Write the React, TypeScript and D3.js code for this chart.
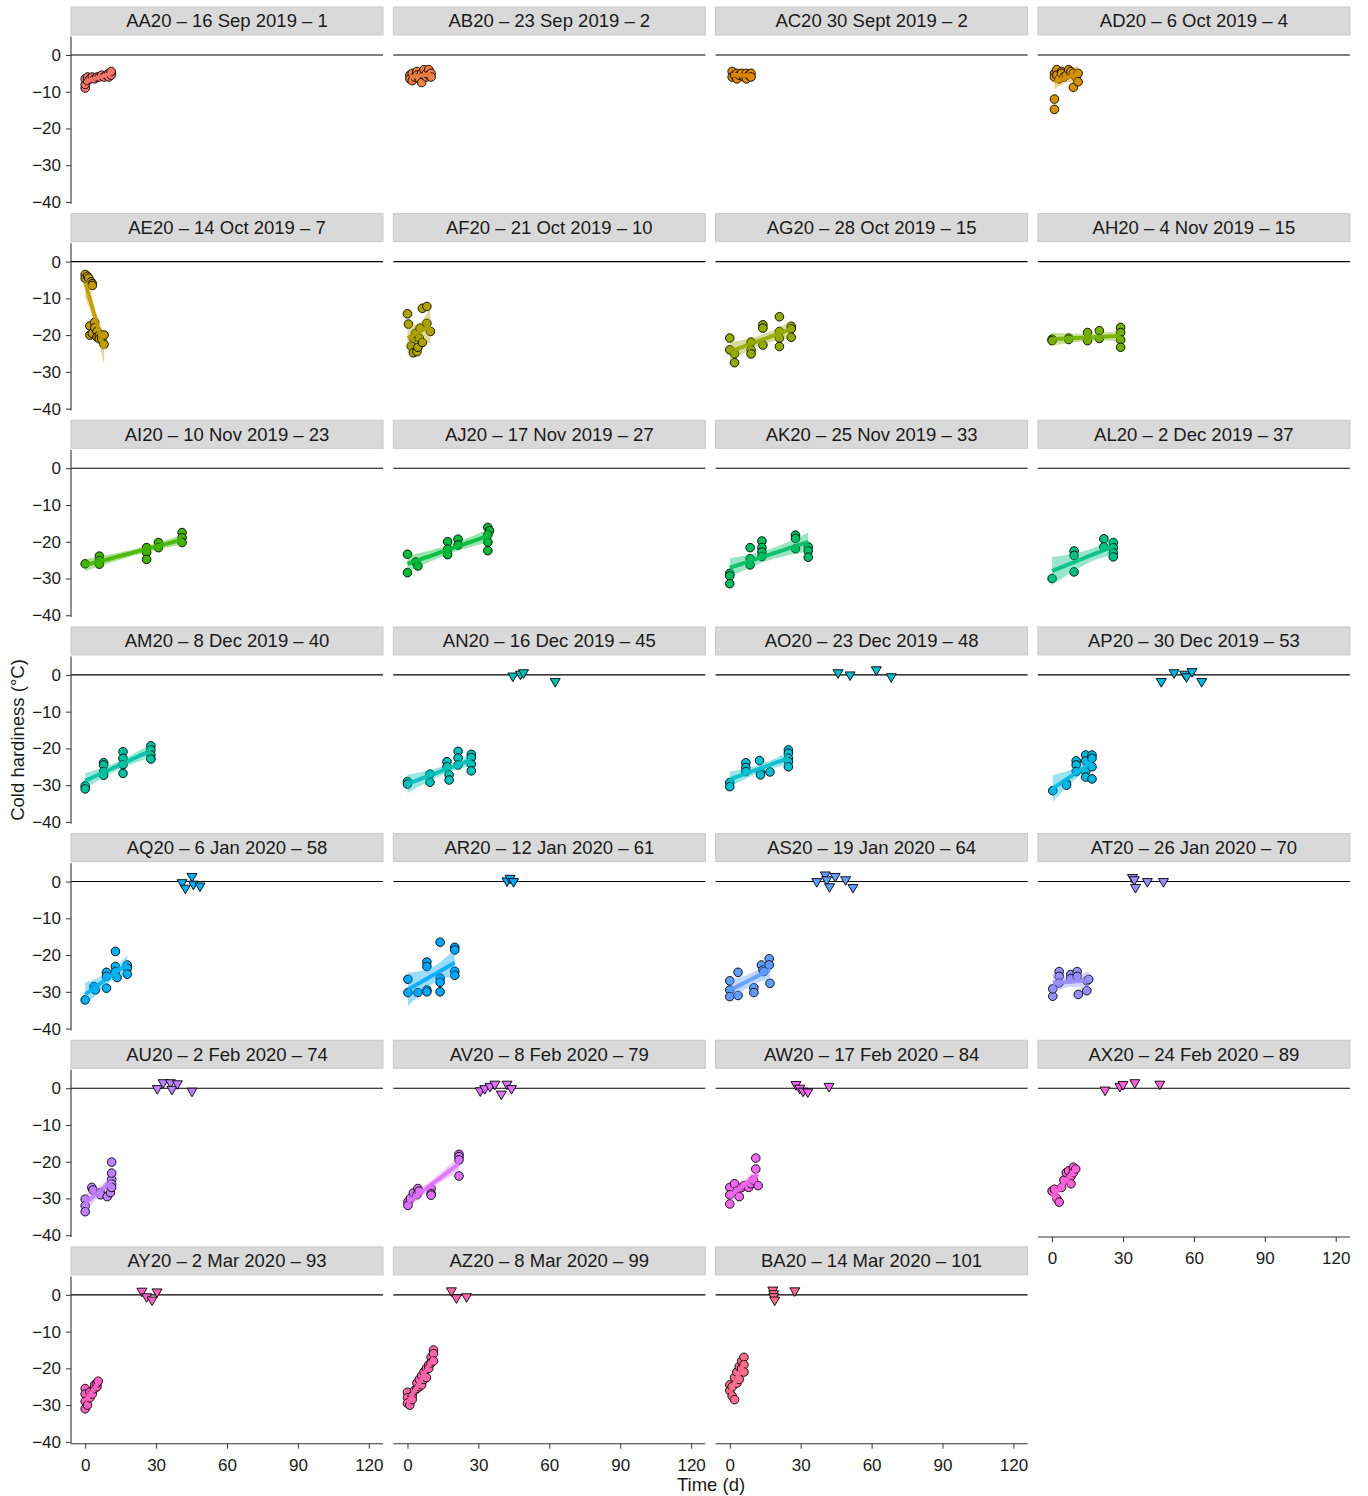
import React, { useEffect, useRef } from 'react';
import * as d3 from 'd3';

// facet titles, in order (4 per row)
const titles = [
  'AA20 – 16 Sep 2019 – 1', 'AB20 – 23 Sep 2019 – 2', 'AC20 30 Sept 2019 – 2', 'AD20 – 6 Oct 2019 – 4',
  'AE20 – 14 Oct 2019 – 7', 'AF20 – 21 Oct 2019 – 10', 'AG20 – 28 Oct 2019 – 15', 'AH20 – 4 Nov 2019 – 15',
  'AI20 – 10 Nov 2019 – 23', 'AJ20 – 17 Nov 2019 – 27', 'AK20 – 25 Nov 2019 – 33', 'AL20 – 2 Dec 2019 – 37',
  'AM20 – 8 Dec 2019 – 40', 'AN20 – 16 Dec 2019 – 45', 'AO20 – 23 Dec 2019 – 48', 'AP20 – 30 Dec 2019 – 53',
  'AQ20 – 6 Jan 2020 – 58', 'AR20 – 12 Jan 2020 – 61', 'AS20 – 19 Jan 2020 – 64', 'AT20 – 26 Jan 2020 – 70',
  'AU20 – 2 Feb 2020 – 74', 'AV20 – 8 Feb 2020 – 79', 'AW20 – 17 Feb 2020 – 84', 'AX20 – 24 Feb 2020 – 89',
  'AY20 – 2 Mar 2020 – 93', 'AZ20 – 8 Mar 2020 – 99', 'BA20 – 14 Mar 2020 – 101',
];

// [day, cold hardiness °C] — measured (circles)
const aa20 = [[0,-9],[0,-8],[0,-6.5],[1,-7],[1,-6],[2,-6.5],[3,-6],[4,-6.5],[5,-6],[6,-6],[7,-5.5],[8,-6],[9,-5.5],[10,-5],[10,-6],[11,-5],[11,-5.5],[11,-4.5]];
const ab20 = [[1,-5.5],[1,-6.5],[2,-7],[2,-5],[3,-6],[4,-4.5],[4,-5.5],[5,-6],[5,-6.5],[6,-7.5],[6,-5],[7,-5.5],[7,-4],[8,-6],[8,-5],[9,-4],[9,-5.5],[10,-5],[10,-6]];
const ac20 = [[1,-4.5],[1,-6],[2,-5.5],[3,-5],[3,-6.5],[4,-5.5],[5,-5],[6,-6],[7,-5],[7,-6.5],[8,-5.5],[9,-5],[9,-6]];
const ad20 = [[1,-5],[1,-6],[1,-12],[1,-14.8],[2,-4],[2,-5.5],[3,-6.5],[4,-4.5],[4,-5],[5,-6],[6,-5.5],[7,-4],[8,-5],[8,-4.5],[9,-5],[9,-8.8],[10,-6],[11,-5],[11,-7.3]];
const ae20 = [[0,-3.5],[0,-4.5],[1,-4],[1.5,-4.5],[2.5,-5.5],[3,-6],[3,-6.5],[2,-17.5],[2,-20],[3,-19.5],[4,-16.5],[4,-18],[5,-19],[5,-20.5],[6,-20],[6,-21],[7,-21],[7,-20],[8,-22.5],[8,-20]];
const af20 = [[0,-14.2],[0.4,-17],[1.6,-23],[2.5,-24.8],[2.5,-20.8],[3.4,-19.5],[4,-24.5],[4.4,-23.3],[5,-20.8],[5.3,-18.1],[6.3,-22],[6.3,-12.7],[8.2,-12.2],[8.2,-16.8],[9.7,-19]];
const ag20 = [[0,-20.8],[0,-24],[2,-25.1],[2,-27.5],[9,-21.9],[9,-24],[9,-25.1],[14,-17.2],[14,-18.1],[14,-22.7],[21,-15],[21,-19],[21,-20.8],[21,-23.1],[26,-17.6],[26,-18.3],[26,-20.6]];
const ah20 = [[0,-21.1],[0,-21.5],[7,-20.8],[7,-21.2],[15,-19.3],[15,-21.5],[20,-18.8],[20,-20.9],[29,-17.9],[29,-19.3],[29,-21.3],[29,-23.3]];
const ai20 = [[0,-26],[6,-23.9],[6,-25.2],[6,-26.1],[26,-21.6],[26,-22.9],[26,-24.8],[31,-20.2],[31,-21.6],[41,-17.5],[41,-18.9],[41,-20.2]];
const aj20 = [[0,-23.4],[0,-28.4],[3.5,-25.5],[4.4,-26.6],[17,-20],[17,-22],[17,-23.5],[21.4,-19.3],[21.4,-20.9],[34,-16.1],[34.7,-17],[34,-18.1],[34,-20.1],[34,-22.4]];
const ak20 = [[0,-28.6],[0,-29.3],[0,-31.4],[8.6,-21.6],[8.6,-24.6],[8.6,-26.3],[13.6,-19.8],[13.6,-21.6],[13.6,-22.8],[13.6,-24],[27.8,-18.2],[27.8,-19.1],[27.8,-21.9],[33.2,-21.4],[33.2,-22.5],[33.2,-24.2]];
const al20 = [[0,-30],[9.3,-22.5],[9.3,-23.7],[9.3,-28.2],[21.9,-19.2],[21.9,-21.4],[25.9,-20.2],[25.9,-21.6],[25.9,-23],[25.9,-24.1]];
const am20 = [[0,-30.2],[0,-31],[7.8,-23.9],[7.8,-24.5],[7.8,-26.3],[7.8,-27.3],[16,-20.9],[16,-22.7],[16,-24.4],[16,-26.8],[27.8,-19.3],[27.8,-20.4],[27.8,-21.8],[27.8,-22.9]];
const an20 = [[0,-29],[0,-29.7],[9.5,-27],[9.5,-29.2],[16.7,-23.6],[16.7,-25],[17.6,-27.2],[17.6,-28.6],[21.4,-20.8],[21.4,-22.6],[21.4,-24.5],[27,-21.6],[27,-22.5],[27,-24.3],[27,-26.1]];
const ao20 = [[0,-29.3],[0,-30.4],[6.8,-23.9],[6.8,-25.2],[6.8,-26.3],[12.6,-23.3],[13,-26.4],[13,-27.2],[17,-26.4],[24.8,-20.4],[24.8,-21.3],[24.8,-22.7],[24.8,-23.6],[24.8,-25]];
const ap20 = [[0.3,-31.5],[6.1,-29.5],[6.1,-30],[10.2,-23.4],[10.2,-24.5],[10.2,-26.3],[14.2,-21.8],[14.2,-23.4],[14.2,-26.3],[14.2,-27.8],[16.9,-21.8],[16.9,-22.7],[16.9,-25],[16.9,-28.3]];
const aq20 = [[0,-32.2],[3.7,-28.6],[4.3,-29.5],[9,-24.7],[9,-25.8],[9,-29],[12.8,-19],[12.8,-23.1],[12.8,-24.5],[13.5,-26.1],[17.8,-22.7],[17.8,-23.6],[17.8,-25.2]];
const ar20 = [[0.2,-26.6],[0.2,-30.2],[4.4,-30.2],[8.2,-21.9],[8.2,-23.1],[8.2,-29.5],[8.2,-30],[13.8,-16.5],[13.8,-26.3],[13.8,-27.4],[13.8,-30],[20,-17.9],[20,-18.6],[20,-24.4],[20,-25.5]];
const as20 = [[0,-27],[0,-29.5],[0,-31.3],[3.5,-24.7],[3.5,-31],[10.2,-28.9],[10.2,-30.2],[13.4,-22.7],[14,-24.1],[14.4,-24.5],[16.7,-21],[16.7,-22.7],[17,-27.7]];
const at20 = [[0.3,-31.2],[0.3,-29.2],[3,-24.5],[3,-25.8],[3,-27.6],[7.9,-25.3],[7.9,-26.4],[10.6,-24.5],[10.6,-25.8],[11.1,-30.7],[14.7,-27],[14.7,-29.7],[15.5,-26.6]];
const au20 = [[0,-30.2],[0,-32],[0,-33.6],[2.8,-27],[3.3,-27.7],[6.5,-28.4],[6.5,-29],[9.3,-29.5],[10.3,-26.6],[10.7,-28.4],[11.2,-24.8],[11.2,-23.1],[11.2,-20.1],[11.2,-26.1],[11.2,-27]];
const av20 = [[0.2,-30.9],[0.2,-31.9],[1.2,-30],[2.5,-28.5],[4,-29],[4.4,-27.3],[4.9,-28],[10,-27.3],[10,-28.7],[10,-29.1],[21.8,-18],[21.8,-18.6],[21.8,-19.5],[21.8,-23.9]];
const aw20 = [[0,-27],[0,-29],[0,-31.5],[2,-26],[3,-28],[4,-29.5],[5,-27],[6,-26.5],[8,-27],[9,-26],[10,-25],[11,-19],[11,-22],[12,-26.5]];
const ax20 = [[0,-28],[1,-27.5],[2,-30],[3,-31],[4,-27],[5,-25],[6,-23],[7,-22.5],[8,-24],[8,-26],[9,-21.5],[9,-23],[10,-22]];
const ay20 = [[0,-25.5],[0,-27],[0,-29],[0,-31],[1,-30],[2,-28],[2,-26.5],[3,-27],[4,-25.5],[4,-24.5],[5,-25],[5,-24],[5.5,-23.5]];
const az20 = [[0,-26.5],[0,-28],[0,-29.5],[1,-30],[2,-27.5],[2,-28.5],[3,-26],[4,-25.5],[4,-24],[5,-23],[5,-25],[6,-22],[6,-24.5],[7,-21],[7,-23],[8,-20],[8,-22.5],[9,-19],[9,-20],[10,-17],[10,-18.5],[11,-15],[11,-16],[11,-18]];
const ba20 = [[0,-24.5],[0,-26],[1,-25],[1,-27.5],[2,-28.5],[2,-22.5],[3,-24],[3,-21],[4,-23],[4,-19.5],[5,-18],[5,-20],[6,-17],[6,-19],[6,-21]];

// [day, °C] — triangles near 0
const an20Tri = [[44.6,-0.3],[47.8,0.2],[49.1,0.6],[62.5,-1.8]];
const ao20Tri = [[45.8,0.6],[50.9,0],[62,1.4],[68.3,-0.5]];
const ap20Tri = [[46.2,-1.8],[51.6,0.6],[56.1,0.2],[56.9,-0.5],[59.2,0.9],[63.3,-1.8]];
const aq20Tri = [[41,-0.3],[42.4,-1.8],[45.2,1.4],[45.8,-0.7],[48.6,-1.2]];
const ar20Tri = [[42.1,0.2],[43.4,0.9],[44.9,0]];
const as20Tri = [[36.8,0],[40.4,1.8],[41,0.5],[42.2,-1.4],[44.6,1.4],[49,0.5],[52.1,-1.6]];
const at20Tri = [[34,1.1],[34.8,0.5],[35.3,-1.6],[40.3,0],[47.1,0]];
const au20Tri = [[30.5,-0.1],[33,1.5],[36.1,1.5],[36.7,-0.3],[39,1.2],[45.2,-0.8]];
const av20Tri = [[30.8,-0.7],[32.7,-0.1],[34.9,0.5],[37,1.1],[39.7,-1.6],[42.1,1.1],[44,-0.1]];
const aw20Tri = [[28,1],[29.6,0],[31,-0.8],[33,-1],[42,0.5]];
const ax20Tri = [[22.4,-0.5],[28.7,0.5],[30,1],[35,1.5],[45.6,1.1]];
const ay20Tri = [[24,1],[26,-0.5],[28.3,-1.4],[30.4,0.8]];
const az20Tri = [[18.6,1.1],[20.7,-0.8],[25,-0.5]];
const ba20Tri = [[18.2,1.3],[18.6,0.3],[18.6,-0.5],[19,-1.4],[27.5,1.1]];

const circles = [aa20, ab20, ac20, ad20, ae20, af20, ag20, ah20, ai20, aj20, ak20, al20, am20, an20,
  ao20, ap20, aq20, ar20, as20, at20, au20, av20, aw20, ax20, ay20, az20, ba20];
const triangles = [[], [], [], [], [], [], [], [], [], [], [], [], [], an20Tri,
  ao20Tri, ap20Tri, aq20Tri, ar20Tri, as20Tri, at20Tri, au20Tri, av20Tri, aw20Tri, ax20Tri, ay20Tri, az20Tri, ba20Tri];

const xTicks = [0, 30, 60, 90, 120];
const yTicks = [0, -10, -20, -30, -40];

const FONT = '"Liberation Sans", Arial, Helvetica, sans-serif';

// ggplot-style hue palette (polar LUV -> sRGB)
function hueColor(h: number) {
  const L = 65, C = 100;
  const hr = (h * Math.PI) / 180;
  const U = C * Math.cos(hr), V = C * Math.sin(hr);
  const Xn = 95.047, Yn = 100, Zn = 108.883;
  const un = (4 * Xn) / (Xn + 15 * Yn + 3 * Zn);
  const vn = (9 * Yn) / (Xn + 15 * Yn + 3 * Zn);
  const Y = Yn * Math.pow((L + 16) / 116, 3);
  const u = U / (13 * L) + un, v = V / (13 * L) + vn;
  const X = (9 * Y * u) / (4 * v);
  const Z = -X / 3 - 5 * Y + (3 * Y) / v;
  const lin = [
    3.240479 * X - 1.53715 * Y - 0.498535 * Z,
    -0.969256 * X + 1.875992 * Y + 0.041556 * Z,
    0.055648 * X - 0.204043 * Y + 1.057311 * Z,
  ].map(c => c / 100);
  const g = lin.map(c => {
    const s = c <= 0.0031308 ? 12.92 * c : 1.055 * Math.pow(c, 1 / 2.4) - 0.055;
    return Math.round(255 * Math.max(0, Math.min(1, s)));
  });
  return d3.rgb(g[0], g[1], g[2]).formatHex();
}

// linear fit with 95% confidence band
function fitLm(pts: number[][]) {
  const n = pts.length;
  const mx = d3.mean(pts, d => d[0]) as number;
  const my = d3.mean(pts, d => d[1]) as number;
  let sxx = 0, sxy = 0;
  pts.forEach(([x, y]) => { sxx += (x - mx) ** 2; sxy += (x - mx) * (y - my); });
  const b = sxy / sxx, a = my - b * mx;
  let sse = 0;
  pts.forEach(([x, y]) => { sse += (y - a - b * x) ** 2; });
  const s = Math.sqrt(sse / (n - 2));
  const df = n - 2, z = 1.96;
  const t = z + (z ** 3 + z) / (4 * df) + (5 * z ** 5 + 16 * z ** 3 + 3 * z) / (96 * df * df);
  const [x0, x1] = d3.extent(pts, d => d[0]) as [number, number];
  return d3.range(0, 41).map(i => {
    const x = x0 + ((x1 - x0) * i) / 40;
    const yh = a + b * x;
    const se = s * Math.sqrt(1 / n + (x - mx) ** 2 / sxx);
    return { x, y: yh, lo: yh - t * se, hi: yh + t * se };
  });
}

const W = 1368, H = 1496;
const panelW = 312, panelH = 167.2;
const colLeft = (c: number) => 71 + c * 322.3;
const rowTop = (r: number) => 36.6 + r * 206.65;

const App: React.FC = () => {
  const svgRef = useRef<SVGSVGElement>(null);

  useEffect(() => {
    if (!svgRef.current) return;
    const svg = d3.select(svgRef.current);
    svg.selectAll('*').remove();

    const x = d3.scaleLinear().domain([-6, 126]).range([0, panelW]);
    const y = d3.scaleLinear().domain([-40.5, 5]).range([panelH, 0]);
    const n = titles.length;

    const line = d3.line<{ x: number; y: number }>().x(d => x(d.x)).y(d => y(d.y));
    const band = d3.area<{ x: number; lo: number; hi: number }>()
      .x(d => x(d.x)).y0(d => y(d.lo)).y1(d => y(d.hi));
    const tri = 'M-5,-3 L5,-3 L0,5.6 Z';

    titles.forEach((title, i) => {
      const c = i % 4, r = Math.floor(i / 4);
      const color = hueColor(15 + (i * 360) / n);
      const g = svg.append('g').attr('transform', `translate(${colLeft(c)},${rowTop(r)})`);

      // strip
      g.append('rect')
        .attr('x', 0).attr('y', -29.6).attr('width', panelW).attr('height', 28)
        .attr('fill', '#d9d9d9').attr('stroke', '#c8c8c8').attr('stroke-width', 1);
      g.append('text')
        .attr('x', panelW / 2).attr('y', -15.6).attr('dy', '0.35em')
        .attr('text-anchor', 'middle')
        .style('font-family', FONT).style('font-size', '18.5px').style('fill', '#1a1a1a')
        .text(title);

      // zero reference line
      g.append('line')
        .attr('x1', 0).attr('x2', panelW).attr('y1', y(0)).attr('y2', y(0))
        .attr('stroke', '#000').attr('stroke-width', 1.1);

      // measured points
      g.selectAll('.pt').data(circles[i]).enter().append('circle')
        .attr('cx', d => x(d[0])).attr('cy', d => y(d[1])).attr('r', 4.3)
        .attr('fill', color).attr('stroke', '#000').attr('stroke-width', 0.9);

      // triangles near 0
      g.selectAll('.tri').data(triangles[i]).enter().append('path')
        .attr('d', tri)
        .attr('transform', d => `translate(${x(d[0])},${y(d[1])})`)
        .attr('fill', color).attr('stroke', '#000').attr('stroke-width', 0.9);

      // regression
      const fit = fitLm(circles[i]);
      g.append('path').attr('d', band(fit) as string).attr('fill', color).attr('fill-opacity', 0.4);
      g.append('path').attr('d', line(fit) as string)
        .attr('fill', 'none').attr('stroke', color).attr('stroke-width', 4).attr('stroke-opacity', 0.9);

      // y axis on left column
      if (c === 0) {
        const ax = g.append('g').call(d3.axisLeft(y).tickValues(yTicks).tickSize(5).tickPadding(5)
          .tickFormat(d => (d as number) < 0 ? `−${Math.abs(d as number)}` : `${d}`));
        ax.select('.domain').attr('d', `M0,0V${panelH}`).attr('stroke', '#333').attr('stroke-width', 1.1);
        ax.selectAll('line').attr('stroke', '#333');
        ax.selectAll('text').style('font-family', FONT).style('font-size', '17px').style('fill', '#1a1a1a');
      }

      // x axis on bottom panels
      if (i + 4 >= n) {
        const ax = g.append('g').attr('transform', `translate(0,${panelH})`)
          .call(d3.axisBottom(x).tickValues(xTicks).tickSize(5).tickPadding(10));
        ax.select('.domain').attr('d', `M0,0H${panelW}`).attr('stroke', '#333').attr('stroke-width', 1.1);
        ax.selectAll('line').attr('stroke', '#333');
        ax.selectAll('text').style('font-family', FONT).style('font-size', '17px').style('fill', '#1a1a1a');
      }
    });

    // axis titles
    svg.append('text')
      .attr('x', 711).attr('y', 1491).attr('text-anchor', 'middle')
      .style('font-family', FONT).style('font-size', '18.5px').style('fill', '#1a1a1a')
      .text('Time (d)');
    svg.append('text')
      .attr('transform', 'translate(24,740) rotate(-90)').attr('text-anchor', 'middle')
      .style('font-family', FONT).style('font-size', '18.5px').style('fill', '#1a1a1a')
      .text('Cold hardiness (°C)');
  }, []);

  return (
    <svg
      ref={svgRef}
      width={W}
      height={H}
      style={{ position: 'absolute', left: 0, top: 0, background: '#fff' }}
    />
  );
};

export default App;
